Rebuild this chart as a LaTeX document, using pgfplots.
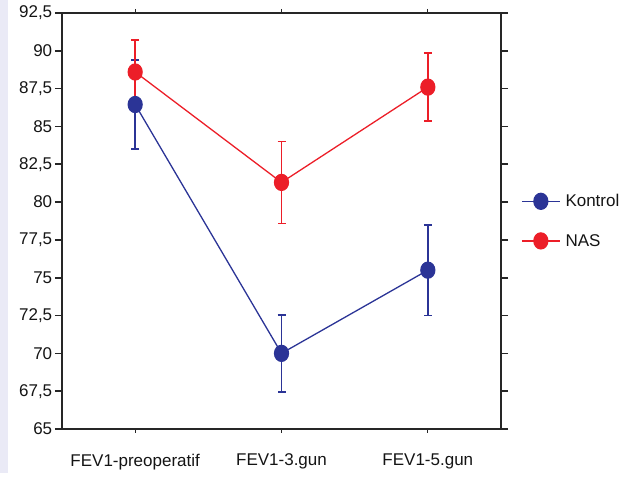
\documentclass[border=0pt]{standalone}
\usepackage{pgfplots}
\pgfplotsset{compat=1.18}
\usepackage{fontspec}
\setmainfont{Liberation Sans}
\definecolor{kblue}{RGB}{43,52,150}
\definecolor{nred}{RGB}{236,30,40}
\definecolor{strip}{RGB}{234,234,246}
\begin{document}
\begin{tikzpicture}
\fill[strip] (0pt,8pt) rectangle (8pt,481pt);
\begin{axis}[
  at={(62pt,52pt)}, anchor=south west,
  scale only axis, width=439pt, height=416pt,
  xmin=-0.5, xmax=2.5, ymin=65, ymax=92.5,
  axis line style={line width=1.6pt, black!85},
  tick align=outside,
  tick pos=both,
  xticklabel pos=bottom, yticklabel pos=left,
  xtick={0,1,2},
  xticklabels={FEV1-preoperatif, FEV1-3.gun, FEV1-5.gun},
  xtick style={line width=1pt, black!85, /pgfplots/major tick length=4pt},
  ytick={65,67.5,...,92.5},
  ytick style={line width=1.6pt, black!85, /pgfplots/major tick length=7pt},
  /pgf/number format/use comma,
  /pgf/number format/assume math mode=true,
  font=\fontsize{17}{20}\selectfont,
  ticklabel style={font=\fontsize{17}{20}\selectfont, text=black!92},
  xticklabel style={yshift=-17pt},
  yticklabel style={xshift=-2pt},
  legend style={at={(1,0.5)}, anchor=west, xshift=17pt, draw=none, fill=none,
    font=\fontsize{17}{20}\selectfont, row sep=22pt, text=black!92,
    /tikz/every odd column/.append style={column sep=3pt}},
  legend cell align=left,
  legend image code/.code={
    \draw[mark repeat=2,mark phase=2] plot coordinates {(0pt,0pt)(19pt,0pt)(38pt,0pt)};},
  ]
\addplot[kblue, line width=1.3pt, mark=*, mark size=8pt, mark options={xscale=0.87},
  error bars/.cd, y dir=both, y explicit,
  error bar style={color=kblue, line width=1.5pt},
  error mark options={color=kblue, rotate=90, mark size=4pt, line width=1.5pt}]
  coordinates {
  (0,86.45) +- (0,2.95)
  (1,70.0)  +- (0,2.55)
  (2,75.5)  +- (0,3.0)
  };
\addlegendentry{Kontrol}
\addplot[nred, line width=1.3pt, mark=*, mark size=8pt, mark options={xscale=0.87},
  error bars/.cd, y dir=both, y explicit,
  error bar style={color=nred, line width=1.5pt},
  error mark options={color=nred, rotate=90, mark size=4pt, line width=1.5pt}]
  coordinates {
  (0,88.6) +- (0,2.1)
  (1,81.3) +- (0,2.7)
  (2,87.6) +- (0,2.25)
  };
\addlegendentry{NAS}
\end{axis}
\pgfresetboundingbox
\path (0pt,0pt) rectangle (621pt,481pt);
\end{tikzpicture}
\end{document}
